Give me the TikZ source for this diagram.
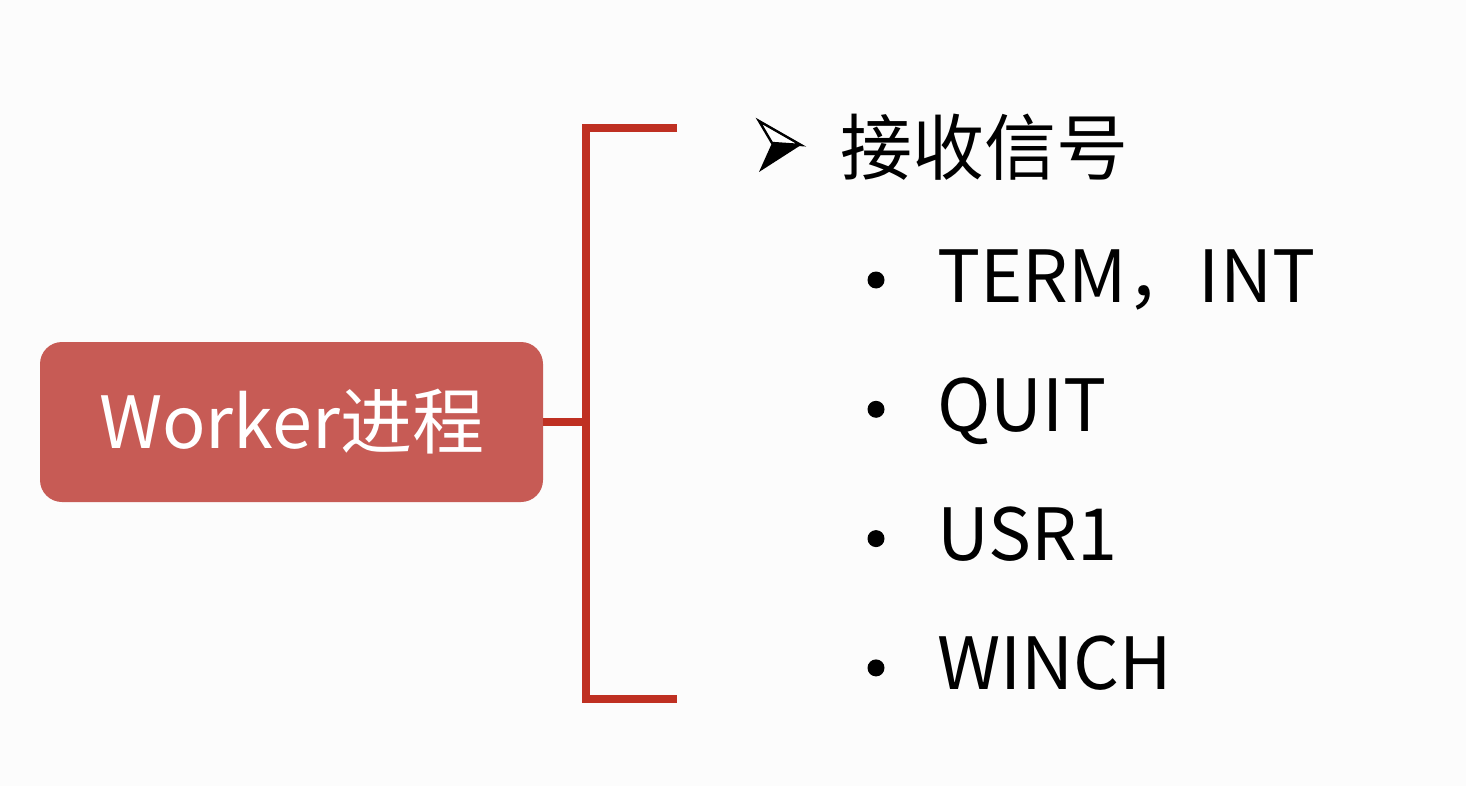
\documentclass[tikz,border=0pt]{standalone}
\usepackage{fontspec}
\setmainfont{Noto Sans CJK SC}
\definecolor{boxred}{HTML}{C75B55}
\definecolor{brackred}{HTML}{BF3022}
\definecolor{paper}{HTML}{FCFCFC}
\tikzset{
    procbox/.style={fill=boxred, rounded corners=22pt, minimum width=503pt, minimum height=160pt,
        text=white, inner sep=0pt, font=\fontsize{72}{80}\selectfont},
    brack/.style={draw=brackred, line width=8pt},
    itemtext/.style={anchor=base west, inner sep=0pt, font=\fontsize{72}{80}\selectfont},
    itemdot/.style={circle, fill=black, inner sep=0pt, minimum size=17pt},
}
\begin{document}
\begin{tikzpicture}[x=1pt, y=-1pt, line join=miter]
    \fill[paper] (0,0) rectangle (1466,786);
    \useasboundingbox (0,0) rectangle (1466,786);
    % process box and bracket
    \node[procbox] (worker) at (291.5,422) {Worker进程};
    \coordinate (btop) at (586,128);
    \coordinate (bbot) at (586,699);
    \coordinate (bmid) at (586,422);
    \coordinate (btopend) at (677,128);
    \coordinate (bbotend) at (677,699);
    \draw[brack] (btopend) -- (btop) -- (bbot) -- (bbotend);
    \draw[brack] (worker.east) -- (bmid);
    % heading mark (3d arrowhead)
    \coordinate (tip) at (801,145);
    \coordinate (notch) at (772,143);
    \filldraw[fill=white, draw=black, line width=2.4pt] (759,121) -- (tip) -- (notch) -- cycle;
    \fill[black] (notch) -- (tip) -- (759,172) -- cycle;
    \node[itemtext] (head) at (840,175) {接收信号};
    % signal list
    \foreach \name/\txt [count=\i] in {term/TERM，INT, quit/QUIT, usr/USR1, winch/WINCH} {
        \pgfmathsetmacro{\yy}{302+(\i-1)*129.3}
        \node[itemtext] (\name) at (937,\yy) {\txt};
        \node[itemdot] (\name-dot) at (876,\yy-22) {};
    }
\end{tikzpicture}
\end{document}
